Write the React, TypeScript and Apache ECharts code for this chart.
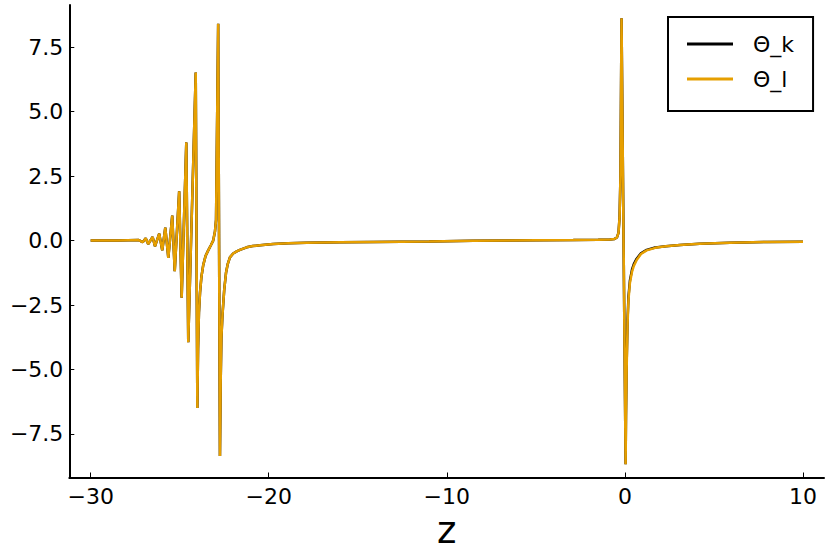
import React, { useEffect, useRef } from "react";
import * as echarts from "echarts";

// z positions
const zValues = [
  -30, -28.5, -27.3, -27.08, -26.91, -26.77, -26.52, -26.39, -26.15, -25.98,
  -25.81, -25.64, -25.42, -25.28, -25.03, -24.89, -24.63, -24.52, -24.10, -24.01,
  -23.97, -23.92, -23.86, -23.78, -23.68, -23.55, -23.40, -23.25, -23.12, -23.02,
  -22.96, -22.84, -22.74, -22.70, -22.66, -22.60, -22.50, -22.40, -22.30, -22.18,
  -22.0, -21.8, -21.62, -21.24, -20.9, -20.49, -19.75, -18.9, -17.87, -16,
  -14.13, -11, -8.52, -5, -2.9, -1.5, -0.84, -0.6, -0.45, -0.36,
  -0.3, -0.25, -0.19, 0.04, 0.06, 0.10, 0.15, 0.2, 0.28, 0.4,
  0.5, 0.66, 0.9, 1.22, 1.7, 2.3, 3.09, 4.2, 5.9, 8,
  10,
];

// Θ_l values
const thetaL = [
  0.0, 0.0, 0.02, -0.06, 0.09, -0.13, 0.14, -0.22, 0.27, -0.38,
  0.50, -0.67, 0.97, -1.19, 1.91, -2.22, 3.81, -3.94, 6.52, -6.49,
  -4.2, -2.8, -2.03, -1.4, -0.95, -0.6, -0.38, -0.18, 0.0, 0.35,
  0.8, 8.41, -8.36, -5.5, -3.8, -2.9, -1.9, -1.25, -0.9, -0.65,
  -0.5, -0.42, -0.36, -0.26, -0.21, -0.18, -0.13, -0.10, -0.08, -0.06,
  -0.05, -0.03, -0.01, 0.01, 0.02, 0.03, 0.04, 0.06, 0.12, 0.3,
  0.9, 2.5, 8.63, -8.68, -7.0, -4.88, -3.2, -2.3, -1.65, -1.2,
  -0.98, -0.75, -0.52, -0.38, -0.28, -0.22, -0.17, -0.12, -0.08, -0.055,
  -0.04,
];

// Θ_k values
const thetaK = [
  0.0, 0.0, 0.02, -0.06, 0.09, -0.13, 0.14, -0.22, 0.27, -0.38,
  0.50, -0.67, 0.97, -1.19, 1.91, -2.22, 3.81, -3.94, 6.52, -6.49,
  -4.2, -2.8, -2.03, -1.4, -0.95, -0.6, -0.38, -0.18, 0.0, 0.35,
  0.8, 8.41, -8.36, -5.5, -3.8, -2.9, -1.9, -1.25, -0.9, -0.65,
  -0.5, -0.42, -0.36, -0.26, -0.21, -0.18, -0.13, -0.10, -0.08, -0.06,
  -0.05, -0.03, -0.01, 0.01, 0.02, 0.03, 0.04, 0.06, 0.12, 0.3,
  0.9, 2.5, 8.63, -8.68, -6.8, -4.7, -3.05, -2.18, -1.56, -1.12,
  -0.91, -0.70, -0.49, -0.36, -0.27, -0.215, -0.167, -0.12, -0.08, -0.055,
  -0.04,
];

const seriesNames = ["Θ_k", "Θ_l"];
const xTicks = [-30, -20, -10, 0, 10];
const yTicks = [-7.5, -5.0, -2.5, 0.0, 2.5, 5.0, 7.5];

const FONT = "DejaVu Sans";
const minus = (s: string) => s.replace("-", "\u2212");

export default function App() {
  const ref = useRef<HTMLDivElement>(null);
  useEffect(() => {
    if (!ref.current) return;
    const chart = echarts.init(ref.current, undefined, { renderer: "svg" });
    const pairs = (ys: number[]) => zValues.map((z, i) => [z, ys[i]]);
    chart.setOption({
      animation: false,
      backgroundColor: "#fff",
      grid: { left: 69.3, top: 5, right: 6, bottom: 76.5, containLabel: false, outerBoundsMode: "none" },
      legend: {
        orient: "vertical",
        left: 668,
        top: 17,
        data: seriesNames,
        icon: "rect",
        itemWidth: 46,
        itemHeight: 3,
        itemGap: 11,
        padding: [15, 19, 20, 19],
        borderColor: "#000",
        borderWidth: 2,
        backgroundColor: "#fff",
        textStyle: { fontFamily: FONT, fontSize: 22, color: "#000", lineHeight: 24, padding: [0, 0, 0, 15] },
      },
      xAxis: {
        type: "value",
        min: -31.2,
        max: 11.18,
        name: "z",
        nameLocation: "middle",
        nameGap: 31,
        nameTextStyle: { fontFamily: FONT, fontSize: 37, color: "#000" },
        axisLine: { onZero: false, lineStyle: { color: "#000", width: 2 } },
        axisTick: { inside: true, length: 5, customValues: xTicks, lineStyle: { color: "#000", width: 1 } },
        axisLabel: {
          customValues: xTicks,
          formatter: (v: number) => minus(String(v)),
          fontFamily: FONT,
          fontSize: 22,
          color: "#000",
          margin: 8,
        },
        splitLine: { show: false },
      },
      yAxis: {
        type: "value",
        min: -9.19,
        max: 9.14,
        axisLine: { onZero: false, lineStyle: { color: "#000", width: 2 } },
        axisTick: { inside: true, length: 5, customValues: yTicks, lineStyle: { color: "#000", width: 1 } },
        axisLabel: {
          customValues: yTicks,
          formatter: (v: number) => minus(v.toFixed(1)),
          fontFamily: FONT,
          fontSize: 22,
          color: "#000",
          margin: 6,
        },
        splitLine: { show: false },
      },
      series: [
        {
          name: seriesNames[0],
          type: "line",
          data: pairs(thetaK),
          showSymbol: false,
          symbol: "none",
          color: "#000000",
          lineStyle: { color: "#000000", width: 2.5 },
        },
        {
          name: seriesNames[1],
          type: "line",
          data: pairs(thetaL),
          showSymbol: false,
          symbol: "none",
          color: "#e69f00",
          lineStyle: { color: "#e69f00", width: 2.5 },
        },
      ],
    });
    return () => chart.dispose();
  }, []);
  return (
    <div
      ref={ref}
      style={{ position: "absolute", left: 0, top: 0, width: 830, height: 554 }}
    />
  );
}
